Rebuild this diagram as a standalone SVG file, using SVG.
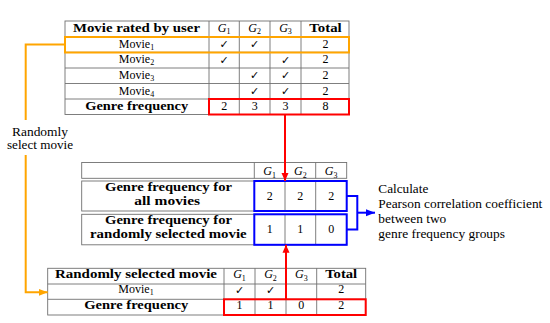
<svg xmlns="http://www.w3.org/2000/svg" width="550" height="323" viewBox="0 0 550 323">
<defs>
<style>
.t{font-family:"Liberation Serif","Times New Roman",serif;font-size:12px;fill:#000}
.b{font-weight:bold}
.c{text-anchor:middle}
.g{font-style:italic}
.ck{font-family:"DejaVu Sans",sans-serif;font-size:11px;text-anchor:middle;fill:#000}
.grid{fill:none;stroke:#707070;stroke-width:0.9}
.red{fill:none;stroke:#ff0000;stroke-width:2}
.blue{fill:none;stroke:#0000ff;stroke-width:2}
.orange{fill:none;stroke:#ffa500;stroke-width:2}
</style>
<marker id="ar" markerWidth="8" markerHeight="8" refX="8" refY="4" orient="auto" markerUnits="userSpaceOnUse"><path d="M0,0.5 L8,4 L0,7.5 Z" fill="#ff0000"/></marker>
<marker id="ab" markerWidth="9" markerHeight="8" refX="9" refY="4" orient="auto" markerUnits="userSpaceOnUse"><path d="M0,0.5 L9,4 L0,7.5 Z" fill="#0000ff"/></marker>
<marker id="ao" markerWidth="9" markerHeight="8" refX="9" refY="4" orient="auto" markerUnits="userSpaceOnUse"><path d="M0,0.5 L9,4 L0,7.5 Z" fill="#ffa500"/></marker>
</defs>
<rect width="550" height="323" fill="#ffffff"/>

<g id="table-rated">
<rect class="grid" x="65" y="21" width="284" height="93.5"/>
<path class="grid" d="M65,36.7H349M65,52.3H349M65,68H349M65,83.5H349M65,99H349M209,21V114.5M239.3,21V114.5M270,21V114.5M301,21V114.5"/>
<text class="t b c" x="136.5" y="31.7" textLength="127" lengthAdjust="spacingAndGlyphs">Movie rated by user</text>
<text class="t c" x="224.2" y="31.7"><tspan class="g">G</tspan><tspan font-size="8" dy="2.5">1</tspan></text>
<text class="t c" x="254.7" y="31.7"><tspan class="g">G</tspan><tspan font-size="8" dy="2.5">2</tspan></text>
<text class="t c" x="285.5" y="31.7"><tspan class="g">G</tspan><tspan font-size="8" dy="2.5">3</tspan></text>
<text class="t b c" x="325.5" y="31.7" textLength="32.4" lengthAdjust="spacingAndGlyphs">Total</text>
<text class="t c" x="136.5" y="47.7">Movie<tspan font-size="8" dy="2">1</tspan></text>
<text class="t c" x="136.5" y="63.3">Movie<tspan font-size="8" dy="2">2</tspan></text>
<text class="t c" x="136.5" y="79">Movie<tspan font-size="8" dy="2">3</tspan></text>
<text class="t c" x="136.5" y="94.5">Movie<tspan font-size="8" dy="2">4</tspan></text>
<text class="ck" x="224.2" y="48">✓</text><text class="ck" x="254.7" y="48">✓</text>
<text class="ck" x="224.2" y="63.6">✓</text><text class="ck" x="285.5" y="63.6">✓</text>
<text class="ck" x="254.7" y="79.3">✓</text><text class="ck" x="285.5" y="79.3">✓</text>
<text class="ck" x="254.7" y="94.8">✓</text><text class="ck" x="285.5" y="94.8">✓</text>
<text class="t c" x="325.5" y="47.7">2</text>
<text class="t c" x="325.5" y="63.3">2</text>
<text class="t c" x="325.5" y="79">2</text>
<text class="t c" x="325.5" y="94.5">2</text>
<text class="t b c" x="136.7" y="110" textLength="103" lengthAdjust="spacingAndGlyphs">Genre frequency</text>
<text class="t c" x="224.2" y="110">2</text>
<text class="t c" x="254.7" y="110">3</text>
<text class="t c" x="285.5" y="110">3</text>
<text class="t c" x="325.5" y="110">8</text>
<rect class="orange" x="65" y="37" width="284" height="15.5"/>
<rect class="red" x="209" y="99" width="140" height="15.5"/>
</g>

<g id="table-compare">
<rect class="grid" x="81.7" y="162.5" width="265" height="15.8"/>
<path class="grid" d="M254.3,162.5V178.3M285,162.5V178.3M315.7,162.5V178.3"/>
<rect class="grid" x="81.7" y="181" width="265" height="30"/>
<rect class="grid" x="81.7" y="214.3" width="265" height="30.5"/>
<path class="grid" d="M285,181V211M315.7,181V211M285,214.3V244.8M315.7,214.3V244.8"/>
<text class="t c" x="269.7" y="175"><tspan class="g">G</tspan><tspan font-size="8" dy="2.5">1</tspan></text>
<text class="t c" x="300.3" y="175"><tspan class="g">G</tspan><tspan font-size="8" dy="2.5">2</tspan></text>
<text class="t c" x="331.2" y="175"><tspan class="g">G</tspan><tspan font-size="8" dy="2.5">3</tspan></text>
<text class="t b c" x="168.5" y="190.7" textLength="127" lengthAdjust="spacingAndGlyphs">Genre frequency for</text>
<text class="t b c" x="167.2" y="205" textLength="65.7" lengthAdjust="spacingAndGlyphs">all movies</text>
<text class="t b c" x="168.5" y="224" textLength="127" lengthAdjust="spacingAndGlyphs">Genre frequency for</text>
<text class="t b c" x="168.3" y="238.3" textLength="156.7" lengthAdjust="spacingAndGlyphs">randomly selected movie</text>
<text class="t c" x="269.7" y="199.5">2</text>
<text class="t c" x="300.3" y="199.5">2</text>
<text class="t c" x="331.2" y="199.5">2</text>
<text class="t c" x="269.7" y="233">1</text>
<text class="t c" x="300.3" y="233">1</text>
<text class="t c" x="331.2" y="233">0</text>
<rect class="blue" x="254.3" y="181" width="92.4" height="30"/>
<rect class="blue" x="254.3" y="214.3" width="92.4" height="30.5"/>
</g>

<g id="table-selected">
<rect class="grid" x="47.7" y="268.3" width="318" height="46.7"/>
<path class="grid" d="M47.7,284H365.7M47.7,299.3H365.7M224,268.3V315M255,268.3V315M286,268.3V315M316.7,268.3V315"/>
<text class="t b c" x="136" y="278.3" textLength="162" lengthAdjust="spacingAndGlyphs">Randomly selected movie</text>
<text class="t c" x="239.5" y="278.3"><tspan class="g">G</tspan><tspan font-size="8" dy="2.5">1</tspan></text>
<text class="t c" x="270.5" y="278.3"><tspan class="g">G</tspan><tspan font-size="8" dy="2.5">2</tspan></text>
<text class="t c" x="301.3" y="278.3"><tspan class="g">G</tspan><tspan font-size="8" dy="2.5">3</tspan></text>
<text class="t b c" x="341.2" y="278.3" textLength="32" lengthAdjust="spacingAndGlyphs">Total</text>
<text class="t c" x="136" y="293.3">Movie<tspan font-size="8" dy="2">1</tspan></text>
<text class="ck" x="239.5" y="293.6">✓</text><text class="ck" x="270.5" y="293.6">✓</text>
<text class="t c" x="341.2" y="293.3">2</text>
<text class="t b c" x="136.2" y="309" textLength="104" lengthAdjust="spacingAndGlyphs">Genre frequency</text>
<text class="t c" x="239.5" y="309">1</text>
<text class="t c" x="270.5" y="309">1</text>
<text class="t c" x="301.3" y="309">0</text>
<text class="t c" x="341.2" y="309">2</text>
<rect class="red" x="224" y="299.3" width="141.7" height="15.7"/>
</g>

<g id="label-random">
<text class="t c" x="40" y="136" textLength="56" lengthAdjust="spacingAndGlyphs">Randomly</text>
<text class="t c" x="40" y="149.3" textLength="66" lengthAdjust="spacingAndGlyphs">select movie</text>
</g>

<g id="label-pearson">
<text class="t" x="378.3" y="192.7" textLength="50" lengthAdjust="spacingAndGlyphs">Calculate</text>
<text class="t" x="378.3" y="207.5" textLength="164" lengthAdjust="spacingAndGlyphs">Pearson correlation coefficient</text>
<text class="t" x="378.3" y="222.7" textLength="68" lengthAdjust="spacingAndGlyphs">between two</text>
<text class="t" x="378.3" y="237.5" textLength="126.7" lengthAdjust="spacingAndGlyphs">genre frequency groups</text>
</g>

<g id="connectors">
<path class="orange" d="M65,44.5H25.7V120"/>
<path class="orange" d="M25.7,155V292.3H47.7" marker-end="url(#ao)"/>
<path class="red" d="M285,114.5V181" marker-end="url(#ar)"/>
<path class="red" d="M286,299.3V244.8" marker-end="url(#ar)"/>
<path class="blue" d="M346.7,196H357.3V229.5H346.7"/>
<path class="blue" d="M357.3,212.7H375" marker-end="url(#ab)"/>
</g>
</svg>
